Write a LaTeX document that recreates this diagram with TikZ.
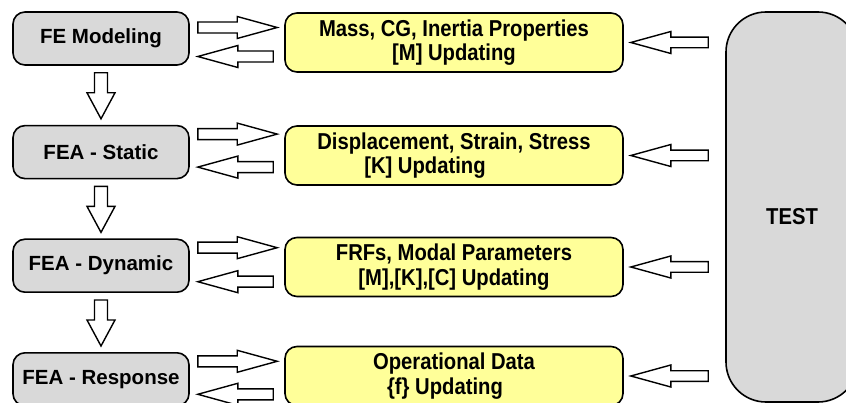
\documentclass[tikz,border=0pt]{standalone}
\usepackage{fontspec}
\setmainfont{Liberation Sans}
\newfontfamily\narrowfont[FakeStretch=0.88]{Liberation Sans}
\usetikzlibrary{positioning,calc}

\definecolor{stepgrey}{RGB}{217,217,217}
\definecolor{datayellow}{RGB}{255,255,153}

% hollow block arrow: start, tip, half shaft, half head, head length
\newcommand{\blockarrow}[5]{%
  \path #1 coordinate (ba-s) #2 coordinate (ba-e);
  \path ($(ba-e)!#5!(ba-s)$) coordinate (ba-h);
  \draw[hollow] ($(ba-s)!#3!90:(ba-e)$) -- ($(ba-h)!#3!90:(ba-e)$) -- ($(ba-h)!#4!90:(ba-e)$) -- (ba-e)
    -- ($(ba-h)!#4!-90:(ba-e)$) -- ($(ba-h)!#3!-90:(ba-e)$) -- ($(ba-s)!#3!-90:(ba-e)$) -- cycle;
}

\begin{document}
\begin{tikzpicture}[x=1pt, y=-1pt,
    fe/.style={rectangle, rounded corners=12pt, draw, line width=1.6pt, fill=stepgrey,
      minimum width=176pt, minimum height=53pt, font=\fontsize{20.5}{24}\selectfont\bfseries},
    data/.style={rectangle, rounded corners=12pt, draw, line width=1.6pt, fill=datayellow,
      minimum width=338pt, minimum height=59pt, align=center,
      font=\narrowfont\fontsize{23}{24.5}\selectfont\bfseries},
    hollow/.style={draw, line width=1.4pt, fill=white, line join=miter}]
      \clip (0, 0) rectangle (846, 403);

      \node[fe] (model) at (101, 38.5) {FE Modeling};
      \node[fe] (static) [below = 59pt of model] {FEA - Static};
      \node[fe] (dynamic) [below = 59pt of static] {FEA - Dynamic};
      \node[fe] (response) [below = 59pt of dynamic] {FEA - Response};

      \node[data] (mass) at (454, 42.5) {Mass, CG, Inertia Properties\\{}[M] Updating};
      \node[data] (strain) at (454, 155.5) {Displacement, Strain, Stress\\{}[K] Updating\hspace*{58pt}};
      \node[data] (modal) at (454, 267) {FRFs, Modal Parameters\\{}[M],[K],[C] Updating};
      \node[data] (opdata) at (454, 376) {Operational Data\\\{f\} Updating\hspace*{18pt}};

      \node[rectangle, rounded corners=40pt, draw, line width=1.6pt, fill=stepgrey,
        minimum width=132pt, minimum height=390pt, font=\narrowfont\fontsize{23}{24.5}\selectfont\bfseries]
        (test) at (792, 207) {\raisebox{-18pt}[0pt][0pt]{TEST}};

      % modelling chain
      \blockarrow{($(model.south)+(0,7)$)}{($(static.north)+(0,-6)$)}{6.5pt}{14pt}{26pt}
      \blockarrow{($(static.south)+(0,7)$)}{($(dynamic.north)+(0,-6)$)}{6.5pt}{14pt}{26pt}
      \blockarrow{($(dynamic.south)+(0,7)$)}{($(response.north)+(0,-6)$)}{6.5pt}{14pt}{26pt}

      % model <-> data
      \blockarrow{($(model.east)+(8,-11)$)}{($(mass.west |- model.east)+(-7,-11)$)}{5.5pt}{11pt}{40pt}
      \blockarrow{($(mass.west |- model.east)+(-11,18)$)}{($(model.east)+(8,18)$)}{5.5pt}{11pt}{40pt}
      \blockarrow{($(static.east)+(8,-18)$)}{($(strain.west |- static.east)+(-7,-18)$)}{5.5pt}{11pt}{40pt}
      \blockarrow{($(strain.west |- static.east)+(-11,15)$)}{($(static.east)+(8,15)$)}{5.5pt}{11pt}{40pt}
      \blockarrow{($(dynamic.east)+(8,-18)$)}{($(modal.west |- dynamic.east)+(-7,-18)$)}{5.5pt}{11pt}{40pt}
      \blockarrow{($(modal.west |- dynamic.east)+(-11,16)$)}{($(dynamic.east)+(8,16)$)}{5.5pt}{11pt}{40pt}
      \blockarrow{($(response.east)+(8,-18)$)}{($(opdata.west |- response.east)+(-7,-18)$)}{5.5pt}{11pt}{40pt}
      \blockarrow{($(opdata.west |- response.east)+(-11,15)$)}{($(response.east)+(8,15)$)}{5.5pt}{11pt}{40pt}

      % test -> data
      \blockarrow{($(test.west |- mass.east)+(-17,0)$)}{($(mass.east)+(7,0)$)}{5.3pt}{11pt}{40pt}
      \blockarrow{($(test.west |- strain.east)+(-17,0)$)}{($(strain.east)+(7,0)$)}{5.3pt}{11pt}{40pt}
      \blockarrow{($(test.west |- modal.east)+(-17,0)$)}{($(modal.east)+(7,0)$)}{5.3pt}{11pt}{40pt}
      \blockarrow{($(test.west |- opdata.east)+(-17,0)$)}{($(opdata.east)+(7,0)$)}{5.3pt}{11pt}{40pt}
    \end{tikzpicture}
\end{document}
